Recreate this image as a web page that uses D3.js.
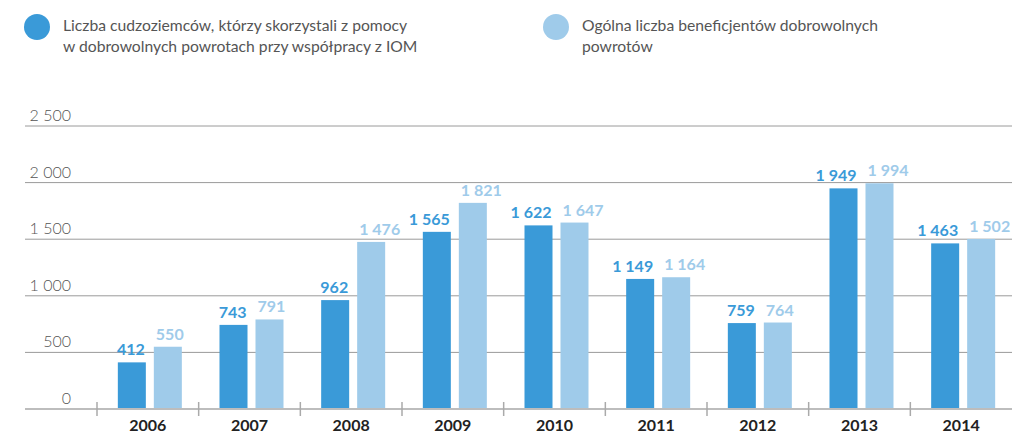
<!DOCTYPE html>
<html>
<head>
<meta charset="utf-8">
<script src="https://cdn.jsdelivr.net/npm/d3@7"></script>
<style>
  body { margin: 0; background: #fff; }
  svg { display: block; font-family: Lato, 'Open Sans', sans-serif; }
</style>
</head>
<body>
<div id="graf"></div>
<script>
// Dane z wykresu
years = ['2006', '2007', '2008', '2009', '2010', '2011', '2012', '2013', '2014']
iomValues = [412, 743, 962, 1565, 1622, 1149, 759, 1949, 1463]
totalValues = [550, 791, 1476, 1821, 1647, 1164, 764, 1994, 1502]
yTicks = [0, 500, 1000, 1500, 2000, 2500]
seriesNames = ['iom', 'total']
legendLines = [
  ['Liczba cudzoziemców, którzy skorzystali z pomocy', 'w dobrowolnych powrotach przy współpracy z IOM'],
  ['Ogólna liczba beneficjentów dobrowolnych', 'powrotów']
]

colors = { iom: '#3a9ad8', total: '#9fcbea' }

ancho_total = 1012
alto_total = 433

svg = d3.select('#graf').append('svg')
  .attr('width', ancho_total)
  .attr('height', alto_total)

// formato z odstępem jako separatorem tysięcy
fmt = d3.formatLocale({ decimal: ',', thousands: ' ', grouping: [3], currency: ['', ''] }).format(',d')

// escaladores
x0 = d3.scaleBand().domain(years).range([97, 1012])
x1 = d3.scaleBand().domain(seriesNames).range([0, 64]).paddingInner(0.222)
y = d3.scaleLinear().domain([0, 2500]).range([409, 126])

// linie siatki
svg.append('g')
  .selectAll('line')
  .data(yTicks.filter(d => d > 0))
  .join('line')
    .attr('x1', 25)
    .attr('x2', 1012)
    .attr('y1', d => y(d))
    .attr('y2', d => y(d))
    .attr('stroke', '#9a9a9a')
    .attr('stroke-width', 1)

// etykiety osi Y
svg.append('g')
  .selectAll('text')
  .data(yTicks)
  .join('text')
    .attr('x', 71)
    .attr('y', d => y(d) - 5)
    .attr('text-anchor', 'end')
    .attr('font-size', '16px')
    .attr('font-weight', 300)
    .attr('fill', '#555')
    .text(d => fmt(d))

// dane połączone
rows = years.map((yr, i) => ({ year: yr, iom: iomValues[i], total: totalValues[i] }))

groups = svg.append('g')
  .selectAll('g')
  .data(rows)
  .join('g')
    .attr('transform', d => `translate(${x0(d.year) + (x0.bandwidth() - 64) / 2 + 2},0)`)

groups.selectAll('rect')
  .data(d => seriesNames.map(k => ({ key: k, value: d[k] })))
  .join('rect')
    .attr('x', d => x1(d.key))
    .attr('width', x1.bandwidth())
    .attr('y', d => y(d.value))
    .attr('height', d => y(0) - y(d.value))
    .attr('fill', d => colors[d.key])

// etykiety wartości: ciemne do prawej krawędzi słupka, jasne od lewej
groups.selectAll('text')
  .data(d => seriesNames.map(k => ({ key: k, value: d[k] })))
  .join('text')
    .attr('x', d => d.key == 'iom' ? x1(d.key) + x1.bandwidth() - 1 : x1(d.key) + 2)
    .attr('y', d => y(d.value) - 7)
    .attr('text-anchor', d => d.key == 'iom' ? 'end' : 'start')
    .attr('font-size', '16px')
    .attr('font-weight', 700)
    .attr('fill', d => colors[d.key])
    .text(d => fmt(d.value))

// linia bazowa i znaczniki
svg.append('line')
  .attr('x1', 25)
  .attr('x2', 1012)
  .attr('y1', y(0))
  .attr('y2', y(0))
  .attr('stroke', '#bdbdbd')
  .attr('stroke-width', 2)

svg.append('g')
  .selectAll('line')
  .data(years)
  .join('line')
    .attr('x1', d => x0(d))
    .attr('x2', d => x0(d))
    .attr('y1', 402)
    .attr('y2', 416)
    .attr('stroke', '#aaa')
    .attr('stroke-width', 1.5)

svg.append('g')
  .selectAll('text')
  .data(years)
  .join('text')
    .attr('x', d => x0(d) + x0.bandwidth() / 2)
    .attr('y', 431)
    .attr('text-anchor', 'middle')
    .attr('font-size', '16px')
    .attr('font-weight', 700)
    .attr('fill', '#222')
    .text(d => d)

// legenda
legendX = [37, 556]
seriesNames.forEach((k, i) => {
  svg.append('circle')
    .attr('cx', legendX[i])
    .attr('cy', 27)
    .attr('r', 13)
    .attr('fill', colors[k])
  legendLines[i].forEach((line, j) => {
    svg.append('text')
      .attr('x', legendX[i] + 26)
      .attr('y', 31 + j * 21)
      .attr('font-size', '15.7px')
      .attr('fill', '#555')
      .text(line)
  })
})
</script>
</body>
</html>
